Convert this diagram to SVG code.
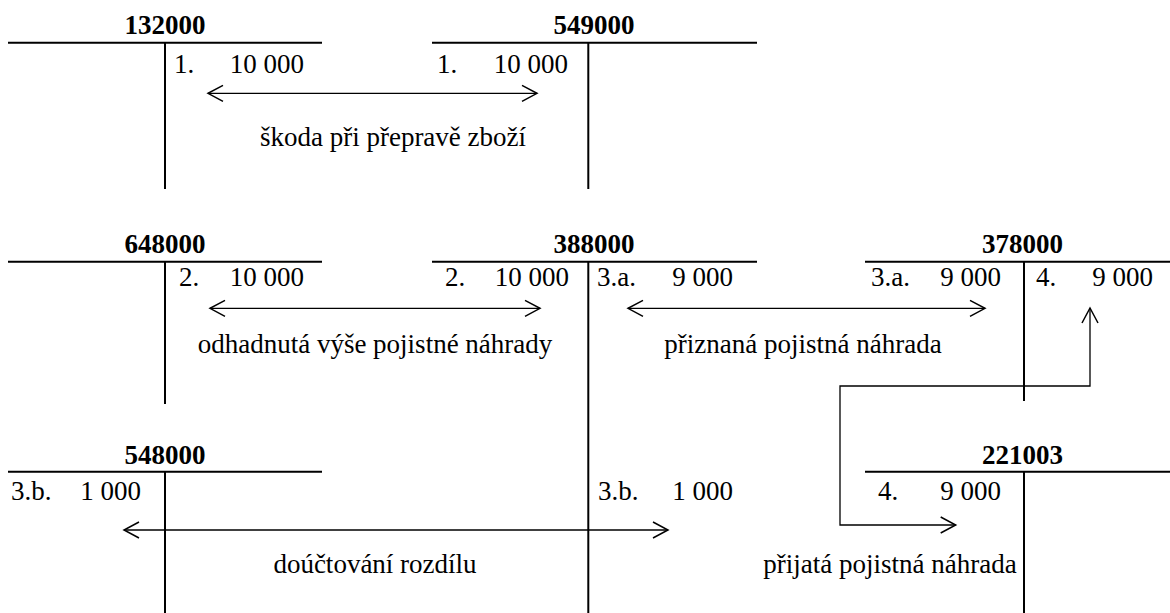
<svg xmlns="http://www.w3.org/2000/svg" width="1170" height="613" viewBox="0 0 1170 613">
<defs>
<marker id="ah" markerUnits="userSpaceOnUse" markerWidth="18" markerHeight="20" viewBox="0 0 18 20" refX="16" refY="10" orient="auto-start-reverse">
<path d="M1,2 L16,10 L1,18" fill="none" stroke="#000" stroke-width="1.5"/>
</marker>
</defs>
<rect width="1170" height="613" fill="#fff"/>
<g id="labels" text-anchor="middle">
<text x="393" y="146" font-family="Liberation Serif" font-size="27">škoda při přepravě zboží</text>
<text x="375" y="353" font-family="Liberation Serif" font-size="27">odhadnutá výše pojistné náhrady</text>
<text x="803" y="353" font-family="Liberation Serif" font-size="27">přiznaná pojistná náhrada</text>
<text x="375" y="573" font-family="Liberation Serif" font-size="27">doúčtování rozdílu</text>
<text x="890" y="573" font-family="Liberation Serif" font-size="27">přijatá pojistná náhrada</text>
</g>
<g id="acc-132000">
<path d="M8,42.7 H322 M165,43 V189" stroke="#000" stroke-width="2" fill="none"/>
<text x="174" y="73" font-family="Liberation Serif" font-size="27">1.</text>
<text x="304" y="73" text-anchor="end" font-family="Liberation Serif" font-size="27">10 000</text>
<text x="165" y="34" font-weight="bold" text-anchor="middle" font-family="Liberation Serif" font-size="27">132000</text>
</g>
<g id="acc-549000">
<path d="M432,42.7 H757 M588.3,43 V189" stroke="#000" stroke-width="2" fill="none"/>
<text x="437" y="73" font-family="Liberation Serif" font-size="27">1.</text>
<text x="568" y="73" text-anchor="end" font-family="Liberation Serif" font-size="27">10 000</text>
<text x="594" y="34" font-weight="bold" text-anchor="middle" font-family="Liberation Serif" font-size="27">549000</text>
</g>
<g id="acc-648000">
<path d="M8,261.7 H322 M165,262 V404" stroke="#000" stroke-width="2" fill="none"/>
<text x="179" y="286" font-family="Liberation Serif" font-size="27">2.</text>
<text x="304" y="286" text-anchor="end" font-family="Liberation Serif" font-size="27">10 000</text>
<text x="165" y="253" font-weight="bold" text-anchor="middle" font-family="Liberation Serif" font-size="27">648000</text>
</g>
<g id="acc-388000">
<path d="M432,261.7 H757 M588.3,262 V613" stroke="#000" stroke-width="2" fill="none"/>
<text x="445" y="286" font-family="Liberation Serif" font-size="27">2.</text>
<text x="569" y="286" text-anchor="end" font-family="Liberation Serif" font-size="27">10 000</text>
<text x="597" y="286" font-family="Liberation Serif" font-size="27">3.a.</text>
<text x="733" y="286" text-anchor="end" font-family="Liberation Serif" font-size="27">9 000</text>
<text x="598" y="500" font-family="Liberation Serif" font-size="27">3.b.</text>
<text x="733" y="500" text-anchor="end" font-family="Liberation Serif" font-size="27">1 000</text>
<text x="594" y="253" font-weight="bold" text-anchor="middle" font-family="Liberation Serif" font-size="27">388000</text>
</g>
<g id="acc-378000">
<path d="M865,261.7 H1180 M1024,262 V401" stroke="#000" stroke-width="2" fill="none"/>
<text x="871" y="286" font-family="Liberation Serif" font-size="27">3.a.</text>
<text x="1001" y="286" text-anchor="end" font-family="Liberation Serif" font-size="27">9 000</text>
<text x="1036" y="286" font-family="Liberation Serif" font-size="27">4.</text>
<text x="1153" y="286" text-anchor="end" font-family="Liberation Serif" font-size="27">9 000</text>
<text x="1022.5" y="253" font-weight="bold" text-anchor="middle" font-family="Liberation Serif" font-size="27">378000</text>
</g>
<g id="acc-548000">
<path d="M8,471.7 H322 M165,472 V613" stroke="#000" stroke-width="2" fill="none"/>
<text x="11" y="500" font-family="Liberation Serif" font-size="27">3.b.</text>
<text x="141" y="500" text-anchor="end" font-family="Liberation Serif" font-size="27">1 000</text>
<text x="165" y="464" font-weight="bold" text-anchor="middle" font-family="Liberation Serif" font-size="27">548000</text>
</g>
<g id="acc-221003">
<path d="M865,471.7 H1180 M1024,472 V613" stroke="#000" stroke-width="2" fill="none"/>
<text x="878" y="500" font-family="Liberation Serif" font-size="27">4.</text>
<text x="1001" y="500" text-anchor="end" font-family="Liberation Serif" font-size="27">9 000</text>
<text x="1022.5" y="464" font-weight="bold" text-anchor="middle" font-family="Liberation Serif" font-size="27">221003</text>
</g>
<g id="connectors" stroke="#000" stroke-width="1.3" fill="none">
<path d="M208,93.3 H537" marker-start="url(#ah)" marker-end="url(#ah)"/>
<path d="M210,308.3 H540" marker-start="url(#ah)" marker-end="url(#ah)"/>
<path d="M628,308.3 H985" marker-start="url(#ah)" marker-end="url(#ah)"/>
<path d="M124,530 H668" marker-start="url(#ah)" marker-end="url(#ah)"/>
<path d="M955.7,525 H840 V386 H1090 V308" marker-start="url(#ah)" marker-end="url(#ah)"/>
</g>
</svg>
